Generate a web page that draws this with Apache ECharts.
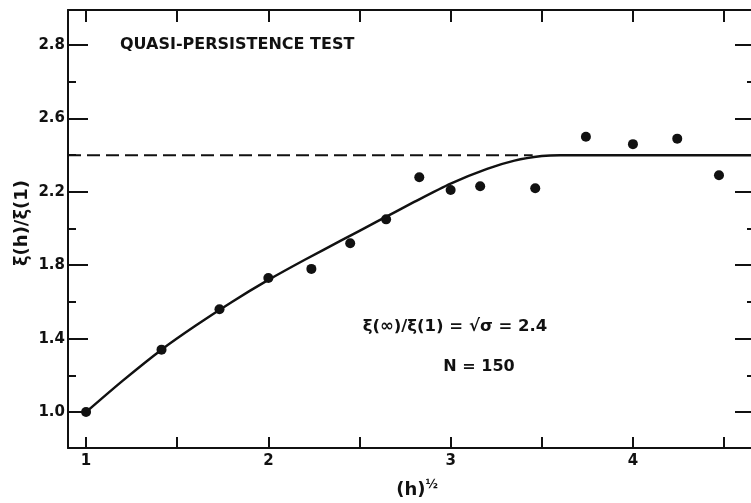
<!DOCTYPE html>
<html lang="en">
<head>
    <meta charset="UTF-8">
    <title>Quasi-persistence test</title>
    <script src="https://cdn.jsdelivr.net/npm/echarts@6/dist/echarts.min.js"></script>
    <style>
        html, body { margin: 0; padding: 0; background: #fff; overflow: hidden; }
    </style>
</head>
<body>
<!-- the frame's right edge lies just past the visible window, as in the scan -->
<div id="main" style="width: 770px;height:503px;"></div>
<script type="text/javascript">
    // axis ranges
    var xMin = 0.901, xMax = 4.675;
    var yMin = 0.804, yMax = 3.191;

    // ticks
    var xTicks = [1, 1.5, 2, 2.5, 3, 3.5, 4, 4.5];
    var xLabels = [1, 2, 3, 4];
    var yMajor = [1.0, 1.4, 1.8, 2.2, 2.6, 3.0];
    var yMajorText = ['1.0', '1.4', '1.8', '2.2', '2.6', '2.8'];   // top label printed as 2.8 in the original
    var yMinor = [1.2, 1.6, 2.0, 2.4, 2.8];

    // measured points, x = (h)^1/2
    var ptX = [1, 1.414, 1.732, 2, 2.236, 2.449, 2.646, 2.828, 3, 3.162, 3.464, 3.742, 4, 4.243, 4.472];
    var ptY = [1.0, 1.34, 1.56, 1.73, 1.78, 1.92, 2.05, 2.28, 2.21, 2.23, 2.22, 2.50, 2.46, 2.49, 2.29];

    // fitted curve
    var curveX = [1.0, 1.2, 1.414, 1.6, 1.8, 2.0, 2.2, 2.4, 2.6, 2.8, 3.0, 3.2, 3.35, 3.5, 3.6, 3.75, 4.675];
    var curveY = [1.0, 1.17, 1.34, 1.47, 1.60, 1.72, 1.83, 1.935, 2.04, 2.145, 2.245, 2.325, 2.37, 2.395, 2.40, 2.40, 2.40];

    // asymptote
    var dashX = [0.901, 3.45];
    var dashY = [2.4, 2.4];

    var ink = '#111';
    var font = 'DejaVu Sans';

    function zip(a, b) {
        return a.map(function (v, i) { return [v, b[i]]; });
    }

    function yText(v) {
        var i = yMajor.findIndex(function (m) { return Math.abs(m - v) < 1e-6; });
        return i < 0 ? '' : yMajorText[i];
    }

    var myChart = echarts.init(document.getElementById('main'));

    var option = {
        backgroundColor: '#fff',
        animation: false,
        grid: { left: 68, top: 10, width: 688, height: 438 },
        xAxis: [
            {
                type: 'value', position: 'bottom', min: xMin, max: xMax,
                splitLine: { show: false },
                axisLine: { show: true, lineStyle: { color: ink, width: 2 } },
                axisTick: { show: true, inside: true, length: 11, customValues: xTicks, lineStyle: { color: ink, width: 2 } },
                axisLabel: {
                    customValues: xLabels, margin: 6, color: ink,
                    fontFamily: font, fontSize: 15, fontWeight: 'bold'
                }
            },
            {
                type: 'value', position: 'top', min: xMin, max: xMax,
                splitLine: { show: false },
                axisLine: { show: true, lineStyle: { color: ink, width: 2 } },
                axisTick: { show: true, inside: true, length: 12, customValues: xTicks, lineStyle: { color: ink, width: 2 } },
                axisLabel: { show: false }
            }
        ],
        yAxis: [
            {
                type: 'value', position: 'left', min: yMin, max: yMax,
                splitLine: { show: false },
                axisLine: { show: true, lineStyle: { color: ink, width: 2 } },
                axisTick: { show: true, inside: true, length: 20, customValues: yMajor, lineStyle: { color: ink, width: 2 } },
                axisLabel: {
                    customValues: yMajor, margin: 3, color: ink,
                    fontFamily: font, fontSize: 15, fontWeight: 'bold',
                    formatter: yText
                }
            },
            {
                type: 'value', position: 'left', offset: 0, min: yMin, max: yMax,
                splitLine: { show: false },
                axisLine: { show: false },
                axisTick: { show: true, inside: true, length: 8, customValues: yMinor, lineStyle: { color: ink, width: 2 } },
                axisLabel: { show: false }
            },
            {
                type: 'value', position: 'right', offset: 0, min: yMin, max: yMax,
                splitLine: { show: false },
                axisLine: { show: true, lineStyle: { color: ink, width: 2 } },
                axisTick: { show: true, inside: true, length: 21, customValues: yMajor, lineStyle: { color: ink, width: 2 } },
                axisLabel: { show: false }
            },
            {
                type: 'value', position: 'right', offset: 0, min: yMin, max: yMax,
                splitLine: { show: false },
                axisLine: { show: false },
                axisTick: { show: true, inside: true, length: 9, customValues: yMinor, lineStyle: { color: ink, width: 2 } },
                axisLabel: { show: false }
            }
        ],
        series: [
            {
                type: 'line', name: 'asymptote', data: zip(dashX, dashY),
                showSymbol: false, silent: true,
                lineStyle: { color: ink, width: 2, type: [13, 6] }
            },
            {
                type: 'line', name: 'curve', data: zip(curveX, curveY),
                showSymbol: false, smooth: 0.25, silent: true,
                lineStyle: { color: ink, width: 2.5 }
            },
            {
                type: 'scatter', name: 'points', data: zip(ptX, ptY),
                symbol: 'circle', symbolSize: 10,
                itemStyle: { color: ink, opacity: 1 }
            }
        ],
        graphic: [
            {
                type: 'text', left: 120, top: 37,
                style: { text: 'QUASI-PERSISTENCE TEST', fill: ink, font: 'bold 16px "DejaVu Sans"' }
            },
            {
                type: 'text', x: 455, y: 327,
                style: {
                    text: 'ξ(∞)/ξ(1) = √σ = 2.4', fill: ink,
                    font: 'bold 16.5px "DejaVu Sans"', align: 'center', verticalAlign: 'middle'
                }
            },
            {
                type: 'text', x: 479, y: 367,
                style: {
                    text: 'N = 150', fill: ink,
                    font: 'bold 16px "DejaVu Sans"', align: 'center', verticalAlign: 'middle'
                }
            },
            {
                type: 'text', x: 22, y: 223, rotation: Math.PI / 2,
                style: {
                    text: 'ξ(h)/ξ(1)', fill: ink,
                    font: 'bold 18px "DejaVu Sans"', align: 'center', verticalAlign: 'middle'
                }
            },
            {
                type: 'text', x: 417, y: 490,
                style: {
                    text: '{b|(h)}{s|½}', fill: ink, align: 'center', verticalAlign: 'middle',
                    rich: {
                        b: { font: 'bold 18px "DejaVu Sans"', fill: ink },
                        s: { font: 'bold 12px "DejaVu Sans"', fill: ink, padding: [0, 0, 10, 0] }
                    }
                }
            }
        ]
    };

    myChart.setOption(option);
</script>
</body>
</html>
